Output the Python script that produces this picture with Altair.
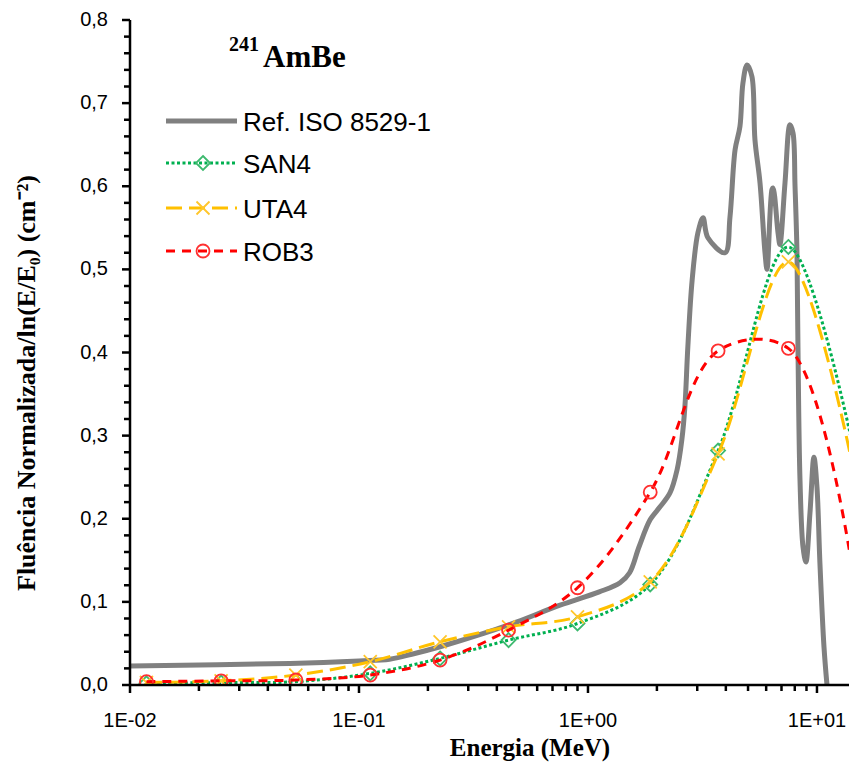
import altair as alt
import pandas as pd

# ---------------- data ----------------
REF_E = [0.01, 0.05, 0.1, 0.136, 0.17, 0.226, 0.35, 0.49, 0.755, 1.12, 1.38, 1.52, 1.67,
         1.87, 2.06, 2.28, 2.45, 2.57, 2.65, 2.73, 2.85, 3.02, 3.18, 3.34, 3.97, 4.17,
         4.39, 4.61, 4.75, 4.95, 5.2, 5.36, 5.64, 5.93, 6.05, 6.36, 6.43, 6.76, 6.89,
         7.25, 7.62, 7.86, 8.02, 8.18, 8.26, 8.43, 8.69, 8.95, 9.32, 9.70, 10.0, 10.3,
         10.73, 11.06]
REF_V = [0.023, 0.026, 0.029, 0.031, 0.037, 0.046, 0.062, 0.076, 0.096, 0.112, 0.123,
         0.135, 0.166, 0.199, 0.214, 0.231, 0.259, 0.295, 0.335, 0.407, 0.487, 0.544,
         0.562, 0.538, 0.520, 0.563, 0.644, 0.672, 0.724, 0.746, 0.732, 0.656, 0.604,
         0.520, 0.500, 0.596, 0.598, 0.544, 0.530, 0.604, 0.674, 0.664, 0.600, 0.520,
         0.407, 0.247, 0.166, 0.148, 0.207, 0.274, 0.238, 0.147, 0.046, 0.0]

E_MODEL = [0.0118, 0.025, 0.053, 0.112, 0.226, 0.45, 0.9, 1.87, 3.7, 7.5, 15.0]
SAN4 = [0.002, 0.003, 0.004, 0.014, 0.032, 0.054, 0.074, 0.121, 0.282, 0.527, 0.263]
UTA4 = [0.003, 0.005, 0.012, 0.028, 0.052, 0.070, 0.082, 0.124, 0.278, 0.509, 0.237]
ROB3 = [0.004, 0.005, 0.006, 0.012, 0.030, 0.066, 0.117, 0.232, 0.402, 0.405, 0.102]

SERIES_NAMES = ["Ref. ISO 8529-1", "SAN4", "UTA4", "ROB3"]

X_TICKS = [0.01, 0.1, 1, 10]
X_TICK_LABELS = ["1E-02", "1E-01", "1E+00", "1E+01"]
X_MINOR = [0.02, 0.03, 0.04, 0.05, 0.06, 0.07, 0.08, 0.09,
           0.2, 0.3, 0.4, 0.5, 0.6, 0.7, 0.8, 0.9,
           2, 3, 4, 5, 6, 7, 8, 9]
Y_TICKS = [0.0, 0.1, 0.2, 0.3, 0.4, 0.5, 0.6, 0.7, 0.8]
Y_TICK_LABELS = ["0,0", "0,1", "0,2", "0,3", "0,4", "0,5", "0,6", "0,7", "0,8"]
Y_MINOR = [0.02, 0.04, 0.06, 0.08, 0.12, 0.14, 0.16, 0.18, 0.22, 0.24, 0.26, 0.28,
           0.32, 0.34, 0.36, 0.38, 0.42, 0.44, 0.46, 0.48, 0.52, 0.54, 0.56, 0.58,
           0.62, 0.64, 0.66, 0.68, 0.72, 0.74, 0.76, 0.78]

X_TITLE = "Energia (MeV)"
Y_TITLE = "Fluência Normalizada/ln(E/E₀) (cm⁻²)"

# ---------------- styling ----------------
W, H = 719, 665
SANS = "Liberation Sans"
SERIF = "Liberation Serif"

xscale = alt.Scale(type="log", domain=[0.01, 13.8], nice=False)
yscale = alt.Scale(domain=[0, 0.8], nice=False, zero=False)

DIAMOND = "M0,-1L1,0L0,1L-1,0Z"
XMARK = "M-1,-1L1,1M-1,1L1,-1"
one = alt.Data(values=[{"a": 1}])

ref_df = pd.DataFrame({"E": REF_E, "v": REF_V})


def model_df(vals):
    return pd.DataFrame({"E": E_MODEL, "v": vals})


layers = []

# gray reference line
layers.append(alt.Chart(ref_df).mark_line(
    color="#808080", strokeWidth=5, interpolate="catmull-rom", clip=True
).encode(x=alt.X("E:Q", scale=xscale, axis=None),
         y=alt.Y("v:Q", scale=yscale, axis=None)))

# tick marks, placed through the shared scales
for vals, length in [(X_TICKS, 8), (X_MINOR, 6)]:
    layers.append(alt.Chart(pd.DataFrame({"t": vals})).mark_rule(
        color="black", strokeWidth=2.5, clip=False
    ).encode(
        x=alt.X("t:Q", scale=xscale, axis=None),
        y=alt.value(H), y2=alt.value(H + length),
    ))
for vals, length in [(Y_TICKS, 8), (Y_MINOR, 6)]:
    layers.append(alt.Chart(pd.DataFrame({"t": vals})).mark_rule(
        color="black", strokeWidth=2.5, clip=False
    ).encode(
        y=alt.Y("t:Q", scale=yscale, axis=None),
        x=alt.value(-length), x2=alt.value(0),
    ))

# model series
styles = [
    ("SAN4", SAN4, "#00B050", [3, 2.5], DIAMOND, "#3CB96E", 196),
    ("UTA4", UTA4, "#FFC000", [16, 7], XMARK, "#FFC62A", 169),
    ("ROB3", ROB3, "#FF0000", [9, 7], "circle", "#FF3030", 169),
]
for name, vals, col, dash, shape, mcol, msize in styles:
    d = model_df(vals)
    layers.append(alt.Chart(d).mark_line(
        color=col, strokeWidth=3, strokeDash=dash, interpolate="catmull-rom", clip=True
    ).encode(x=alt.X("E:Q", scale=xscale, axis=None),
             y=alt.Y("v:Q", scale=yscale, axis=None)))
    layers.append(alt.Chart(d).mark_point(
        shape=shape, filled=False, color=mcol, strokeWidth=1.8, size=msize,
        opacity=1, clip=True
    ).encode(x=alt.X("E:Q", scale=xscale, axis=None),
             y=alt.Y("v:Q", scale=yscale, axis=None)))

# ---------------- legend (manual) ----------------
LEG_Y = [101, 143, 188, 231]
leg_styles = [
    ("#808080", 5, None, None, None, None),
    ("#00B050", 3, [3, 2.5], DIAMOND, "#3CB96E", 196),
    ("#FFC000", 3, [16, 7], XMARK, "#FFC62A", 169),
    ("#FF0000", 3, [9, 7], "circle", "#FF3030", 169),
]
for name, ly, (col, sw, dash, shape, mcol, msize) in zip(SERIES_NAMES, LEG_Y, leg_styles):
    rule_kw = dict(color=col, strokeWidth=sw)
    if dash:
        rule_kw["strokeDash"] = dash
    layers.append(alt.Chart(one).mark_rule(**rule_kw).encode(
        x=alt.value(36), x2=alt.value(107), y=alt.value(ly)))
    if shape:
        layers.append(alt.Chart(one).mark_point(
            shape=shape, filled=False, color=mcol, strokeWidth=1.8, size=msize, opacity=1
        ).encode(x=alt.value(73), y=alt.value(ly)))
    layers.append(alt.Chart(one).mark_text(
        text=name, font=SANS, fontSize=26, color="black", align="left",
        baseline="alphabetic"
    ).encode(x=alt.value(113), y=alt.value(ly + 10)))

# ---------------- title ----------------
layers.append(alt.Chart(one).mark_text(
    text="241", font=SERIF, fontSize=20, fontWeight="bold", color="black",
    align="left", baseline="alphabetic").encode(x=alt.value(99), y=alt.value(31)))
layers.append(alt.Chart(one).mark_text(
    text="AmBe", font=SERIF, fontSize=31, fontWeight="bold", color="black",
    align="left", baseline="alphabetic").encode(x=alt.value(133), y=alt.value(47)))

# ---------------- axis domain lines, labels and titles ----------------
layers.append(alt.Chart(one).mark_rule(color="black", strokeWidth=2.5).encode(
    x=alt.value(0), x2=alt.value(W), y=alt.value(H)))
layers.append(alt.Chart(one).mark_rule(color="black", strokeWidth=2.5).encode(
    x=alt.value(0), y=alt.value(0), y2=alt.value(H)))

layers.append(alt.Chart(pd.DataFrame({"xl": X_TICKS, "lab": X_TICK_LABELS})).mark_text(
    font=SANS, fontSize=20, color="black", align="center", baseline="alphabetic"
).encode(x=alt.X("xl:Q", scale=xscale, axis=None), y=alt.value(H + 42), text="lab:N"))
layers.append(alt.Chart(pd.DataFrame({"yl": Y_TICKS, "lab": Y_TICK_LABELS})).mark_text(
    font=SANS, fontSize=20, color="black", align="right", baseline="middle"
).encode(y=alt.Y("yl:Q", scale=yscale, axis=None), x=alt.value(-22), text="lab:N"))

layers.append(alt.Chart(one).mark_text(
    text=X_TITLE, font=SERIF, fontSize=25, fontWeight="bold", color="black",
    align="center", baseline="alphabetic"
).encode(x=alt.value(400), y=alt.value(H + 71)))
layers.append(alt.Chart(one).mark_text(
    text=Y_TITLE, font=SERIF, fontSize=26, fontWeight="bold", color="black",
    align="center", baseline="alphabetic", angle=270
).encode(x=alt.value(-95), y=alt.value(363)))

chart = alt.layer(*layers).properties(
    width=W, height=H,
    padding={"left": 130, "top": 20, "right": 1, "bottom": 79},
    autosize=alt.AutoSizeParams(type="none"),
    background="white",
).configure_view(stroke=None)

chart.save("out.html", embed_options={"renderer": "svg", "actions": False})
